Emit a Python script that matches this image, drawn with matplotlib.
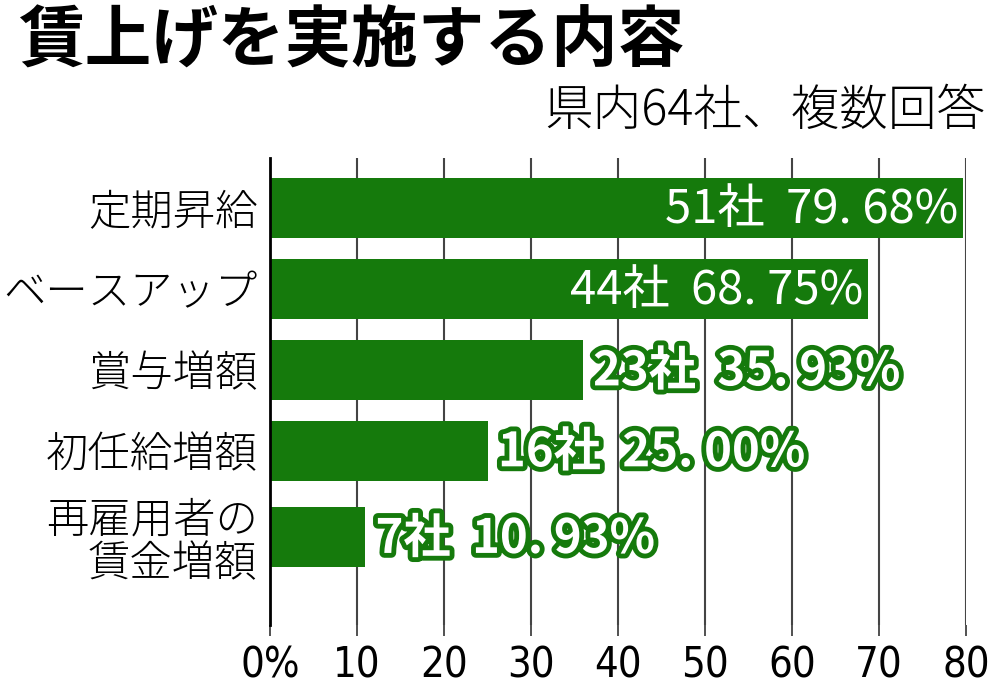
import numpy as np
import matplotlib.pyplot as plt
import matplotlib.patheffects as pe

plt.rcParams['font.family'] = ['Noto Sans CJK JP', 'DejaVu Sans']

# データ
categories = ["定期昇給", "ベースアップ", "賞与増額", "初任給増額", "再雇用者の\n賃金増額"]
companies = [51, 44, 23, 16, 7]
percents = [79.68, 68.75, 35.93, 25.00, 10.93]
xticks = [0, 10, 20, 30, 40, 50, 60, 70, 80]
xticklabels = ["0%", "10", "20", "30", "40", "50", "60", "70", "80"]

green = "#157a0c"

fig = plt.figure(figsize=(10, 6.98), dpi=100)
ax = fig.add_axes([0.270, 0.105, 0.696, 0.669])

y = np.arange(len(categories)) + np.array([0, 0, 0, 0, 0.07])
ax.barh(y, percents, height=0.74, color=green, zorder=2)

ax.set_xlim(0, 80)
ax.set_ylim(5.15, -0.62)

# 目盛り
ax.set_xticks(xticks)
ax.set_xticklabels(xticklabels, family=['DejaVu Sans'], fontstretch='condensed', fontsize=30)
ax.tick_params(axis='x', length=8, width=1.2, color='#333333', pad=6)
ax.set_yticks(y)
ax.set_yticklabels(categories, fontsize=30.5, fontweight='light', linespacing=1.0)
ax.tick_params(axis='y', length=0, pad=9)
ax.grid(axis='x', color='#444444', linewidth=1.5, zorder=0)

for s in ['top', 'right', 'bottom']:
    ax.spines[s].set_visible(False)
ax.spines['left'].set_linewidth(2)
ax.spines['left'].set_color('black')

# 数値ラベル
for yi, n, p in zip(y, companies, percents):
    label = f"{n}社  {p:.2f}".replace(".", ". ") + "%"
    if p > 50:
        ax.text(p - 0.6, yi + 0.02, label, ha='right', va='center', color='white',
                fontsize=34, zorder=3)
    else:
        ax.text(p + 1.2, yi + 0.02, label, ha='left', va='center', color='white',
                fontsize=34, fontweight='bold', zorder=3,
                path_effects=[pe.withStroke(linewidth=7, foreground=green)])

fig.text(0.018, 0.988, "賃上げを実施する内容", fontsize=48, fontweight='bold', va='top', ha='left')
fig.text(0.985, 0.84, "県内64社、複数回答", fontsize=35, fontweight='light', va='center', ha='right')

plt.savefig("out.png", dpi=100)
